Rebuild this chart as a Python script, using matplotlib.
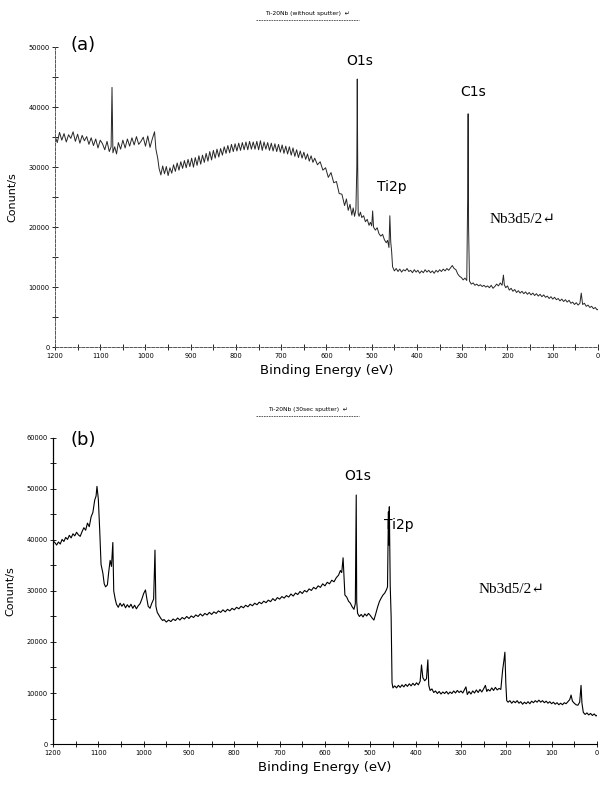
import matplotlib
matplotlib.use("Agg")
import matplotlib.pyplot as plt
from matplotlib.lines import Line2D
from matplotlib.ticker import MultipleLocator

# XPS survey, panel (a): Ti-20Nb without sputter
energy_a = [1200, 1195, 1190, 1185, 1180, 1175, 1170, 1165, 1160, 1155, 1150, 1145, 1140, 1135,
            1130, 1125, 1120, 1115, 1110, 1105, 1100, 1095, 1090, 1085, 1080, 1076, 1074, 1072,
            1068, 1064, 1060, 1055, 1050, 1045, 1040, 1035, 1030, 1025, 1020, 1015, 1010, 1005,
            1000, 995, 990, 985, 980, 977, 973, 970, 966, 962, 958, 954, 950, 946, 942, 938,
            934, 930, 926, 922, 918, 914, 910, 906, 902, 898, 894, 890, 886, 882, 878, 874,
            870, 866, 862, 858, 854, 850, 846, 842, 838, 834, 830, 826, 822, 818, 814, 810,
            806, 802, 798, 794, 790, 786, 782, 778, 774, 770, 766, 762, 758, 754, 750, 746,
            742, 738, 734, 730, 726, 722, 718, 714, 710, 706, 702, 698, 694, 690, 686, 682,
            678, 674, 670, 666, 662, 658, 654, 650, 646, 642, 638, 634, 630, 626, 620, 614,
            608, 602, 596, 590, 584, 578, 572, 566, 560, 556, 552, 548, 544, 541, 538, 535,
            533, 532, 531, 530, 528, 525, 522, 518, 514, 510, 506, 503, 500, 498, 496, 492,
            488, 484, 480, 476, 472, 468, 465, 462, 460, 458, 456, 454, 450, 446, 442, 438,
            434, 430, 426, 422, 418, 414, 410, 406, 402, 398, 394, 390, 386, 382, 378, 374,
            370, 366, 362, 358, 354, 350, 346, 342, 338, 334, 330, 326, 322, 318, 314, 310,
            306, 302, 298, 294, 290, 288, 287, 286, 284, 280, 276, 272, 268, 264, 260, 256,
            252, 248, 244, 240, 236, 232, 228, 224, 220, 216, 212, 209, 207, 204, 200, 196,
            192, 188, 184, 180, 176, 172, 168, 164, 160, 156, 152, 148, 144, 140, 136, 132,
            128, 124, 120, 116, 112, 108, 104, 100, 96, 92, 88, 84, 80, 76, 72, 68,
            64, 60, 56, 52, 48, 44, 40, 37, 34, 30, 26, 22, 18, 14, 10, 6, 2, 0]
counts_a = [35200, 34100, 35800, 34500, 35600, 34200, 35400, 34800, 35900, 34300, 35500, 34000, 35300, 34400,
            35100, 33800, 34900, 33600, 34700, 33200, 34500, 33900, 32900, 34300, 32600, 33400, 43300, 32400,
            33400, 32200, 34100, 33000, 34500, 33200, 34700, 33500, 34900, 33700, 35100, 33800, 34300, 35000,
            33500, 35200, 33300, 34700, 35900, 33000, 31500, 29800, 28700, 30200, 28900, 30100, 28600, 29900, 29000, 30400,
            29300, 30700, 29500, 30900, 29800, 31100, 29900, 31300, 30100, 31500, 30000, 31600, 30300, 31900, 30500, 32000,
            30800, 32300, 31000, 32600, 31200, 32800, 31500, 33000, 31700, 33100, 32000, 33400, 32300, 33600, 32400, 33800,
            32600, 33900, 32700, 34000, 32800, 34100, 32900, 34200, 32900, 34300, 33000, 34200, 33000, 34300, 32900, 34400,
            32800, 34200, 33000, 34100, 32800, 34000, 32700, 33900, 32600, 33800, 32500, 33700, 32300, 33500, 32200, 33400,
            32000, 33200, 31800, 32900, 31600, 32700, 31500, 32500, 31300, 32200, 31000, 31900, 30800, 31500, 30400, 30900,
            29500, 29900, 28300, 29100, 27400, 27600, 25600, 25500, 23600, 24700, 22800, 23800, 22000, 23200, 21800, 22900,
            30000, 44700, 30000, 22300, 21800, 22500, 21600, 21900, 20900, 21300, 20300, 20800, 20200, 22700, 20000, 19500,
            19900, 18900, 18500, 18800, 17900, 17400, 17800, 16600, 21900, 17500, 15900, 13400, 12700, 13100, 12600, 13000,
            12500, 12900, 12700, 13100, 12600, 12800, 12400, 12900, 12500, 12800, 12300, 12700, 12400, 12900, 12500, 12800,
            12400, 12700, 12300, 12800, 12500, 12900, 12600, 13000, 12700, 13100, 12800, 13200, 13600, 13100, 12900, 12200,
            11800, 11600, 11200, 11500, 11100, 25000, 38900, 20000, 11000, 10500, 10700, 10300, 10500, 10200, 10400, 10100,
            10300, 10000, 10200, 9900, 10300, 9800, 10100, 10500, 10200, 10700, 10300, 12000, 10400, 9900, 10200, 9500,
            9800, 9300, 9600, 9100, 9400, 9000, 9300, 8900, 9200, 8800, 9100, 8700, 9000, 8600, 8900, 8500,
            8800, 8400, 8700, 8300, 8500, 8100, 8400, 8000, 8300, 7900, 8100, 7700, 8000, 7600, 7900, 7500,
            7800, 7300, 7500, 7100, 7400, 7000, 7300, 9000, 7100, 7300, 6800, 7000, 6600, 6800, 6400, 6600, 6200, 6300]

# panel (b): Ti-20Nb after 30 sec sputter
energy_b = [1200, 1196, 1192, 1188, 1184, 1180, 1176, 1172, 1168, 1164, 1160, 1156, 1152, 1148,
            1144, 1140, 1136, 1132, 1128, 1124, 1120, 1116, 1112, 1108, 1105, 1103, 1100, 1097,
            1094, 1090, 1087, 1084, 1080, 1077, 1074, 1071, 1068, 1066, 1063, 1060, 1056, 1052,
            1048, 1044, 1040, 1036, 1032, 1028, 1024, 1020, 1016, 1012, 1008, 1004, 1000, 996,
            993, 990, 986, 982, 978, 975, 973, 970, 966, 962, 958,
            955, 950, 945, 940, 935, 930, 925, 920, 915, 910, 905, 900, 895, 890, 885, 880,
            875, 870, 865, 860, 855, 850, 845, 840, 835, 830, 825, 820, 815, 810, 805, 800,
            795, 790, 785, 780, 775, 770, 765, 760, 755, 750, 745, 740, 735, 730, 725, 720,
            715, 710, 705, 700, 695, 690, 685, 680, 675, 670, 665, 660, 655, 650, 645, 640,
            635, 630, 625, 620, 615, 610, 605, 600, 595, 590, 585, 580, 575, 570, 566, 563,
            560, 558, 556, 552, 548, 544, 540, 536, 533, 531, 530, 528, 524, 520, 516, 512,
            508, 504, 500, 496, 492, 488, 484, 480, 476, 472, 468, 464, 462, 460, 459, 458,
            456, 454, 452, 450, 446, 442, 438, 434, 430, 426, 422, 418, 414, 410, 406, 402,
            398, 394, 390, 387, 384, 380, 376, 373, 371, 368, 364, 360, 356, 352, 348, 344,
            340, 336, 332, 328, 324, 320, 316, 312, 308, 304, 300, 296, 292, 289, 286, 282,
            278, 274, 270, 266, 262, 258, 254, 250, 246, 243, 240, 236, 232, 228, 224, 220,
            216, 212, 208, 205, 203, 201, 199, 196, 192, 188, 184, 180, 176, 172, 168, 164,
            160, 156, 152, 148, 144, 140, 136, 132, 128, 124, 120, 116, 112, 108, 104, 100,
            96, 92, 88, 84, 80, 76, 72, 68, 64, 60, 57, 54, 50, 46, 42, 38,
            35, 33, 30, 26, 22, 18, 14, 10, 6, 2, 0]
counts_b = [39800, 39500, 39000, 39600, 39200, 40100, 39700, 40500, 40100, 40900, 40400, 41200, 40800, 41500,
            41000, 40700, 41600, 42400, 41900, 43300, 42600, 44500, 45400, 47800, 48600, 50500, 48000, 42000,
            35200, 33500, 31400, 30800, 31200, 33800, 36000, 34800, 39500, 30000, 28500, 27400, 26800, 27600,
            27000, 27500, 26700, 27300, 26800, 27400, 26600, 27200, 26500, 27100, 27500, 28400, 29500, 30200,
            28500, 27000, 26600, 27600, 28400, 38000, 27000, 25800, 25200, 24600, 24200,
            24400, 23900, 24300, 24000, 24500, 24200, 24700, 24300, 24800, 24500, 25000, 24600, 25100, 24800, 25300, 25000,
            25500, 25100, 25600, 25300, 25800, 25400, 25900, 25600, 26100, 25800, 26300, 25900, 26400, 26100, 26600, 26300,
            26800, 26500, 27000, 26700, 27200, 26900, 27400, 27100, 27600, 27300, 27800, 27500, 28000, 27700, 28200, 27900,
            28500, 28100, 28700, 28400, 28900, 28600, 29100, 28800, 29400, 29000, 29600, 29300, 29900, 29500, 30100, 29800,
            30400, 30100, 30700, 30400, 31000, 30700, 31400, 31000, 31700, 31400, 32100, 31800, 32600, 33100, 34000, 33600,
            36500, 33000, 29200, 28800, 28000, 27600, 26900, 26400, 27500, 48800, 28000, 25600, 25000, 25400, 24900, 25500,
            25100, 25600, 25200, 24700, 24300, 25500, 26800, 27900, 28600, 29200, 29600, 30300, 30800, 45500, 39000, 46500,
            31000, 25000, 12000, 11000, 11400, 11000, 11500, 11100, 11600, 11200, 11700, 11300, 11800, 11400, 11900, 11500,
            12000, 11600, 12300, 15500, 13000, 12400, 12800, 16500, 11500, 10500, 10800, 10100, 10400, 9900, 10300, 9800,
            10200, 9900, 10300, 9800, 10200, 9900, 10400, 10000, 10500, 10100, 10400, 10000, 10700, 11200, 9700, 10300,
            9800, 10400, 10000, 10600, 10100, 10700, 10200, 10800, 11500, 10300, 10700, 10400, 11000, 10500, 11100, 10600,
            10900, 10700, 14500, 16500, 18000, 12000, 8500, 8200, 8500, 8000, 8400, 8100, 8500, 8000, 8300, 7800,
            8200, 7900, 8300, 7900, 8400, 8100, 8500, 8200, 8600, 8200, 8500, 8100, 8400, 8000, 8300, 7900,
            8200, 7800, 8100, 7700, 8000, 7700, 8100, 7900, 8300, 8700, 9600, 8400, 8000, 7700, 7600, 8200,
            11500, 8000, 6200, 5800, 6100, 5700, 6000, 5600, 5900, 5500, 5600]

peaks_a = ["O1s", "Ti2p", "C1s"]
peak_pos_a = [(526, 47700), (455, 26700), (276, 42500)]
peaks_b = ["O1s", "Ti2p"]
peak_pos_b = [(527, 52500), (437, 43000)]

fig = plt.figure(figsize=(6.03, 7.87), dpi=100)
ax_a = fig.add_axes([0.0912, 0.559, 0.9005, 0.381])
ax_b = fig.add_axes([0.0879, 0.0546, 0.902, 0.389])

ax_a.plot(energy_a, counts_a, color="#262626", lw=0.7)
ax_b.plot(energy_b, counts_b, color="black", lw=0.8)

for ax, ytop in [(ax_a, 50000), (ax_b, 60000)]:
    ax.set_xlim(1200, 0)
    ax.set_ylim(0, ytop)
    ax.xaxis.set_major_locator(MultipleLocator(100))
    ax.xaxis.set_minor_locator(MultipleLocator(50))
    ax.yaxis.set_major_locator(MultipleLocator(10000))
    ax.yaxis.set_minor_locator(MultipleLocator(5000))
    ax.tick_params(which="both", direction="inout", length=4, width=0.6, labelsize=4.8, pad=2)
    ax.spines["top"].set_visible(False)
    ax.spines["right"].set_visible(False)
    ax.set_xlabel("Binding Energy (eV)", fontsize=9.5, labelpad=4)
    ax.set_ylabel("Conunt/s", fontsize=8, labelpad=8)
    ax.patch.set_visible(False)

# scanned look of the top panel axes
for side in ["left", "bottom"]:
    ax_a.spines[side].set_linestyle((0, (3, 1.5)))
    ax_a.spines[side].set_color("#555555")
    ax_a.spines[side].set_linewidth(0.7)
ax_b.spines["left"].set_linewidth(0.9)

ax_a.text(1138, 50300, "(a)", fontsize=13, ha="center", va="center")
ax_b.text(1134, 59500, "(b)", fontsize=13, ha="center", va="center")
for name, (x, y) in zip(peaks_a, peak_pos_a):
    ax_a.text(x, y, name, fontsize=10, ha="center", va="center")
for name, (x, y) in zip(peaks_b, peak_pos_b):
    ax_b.text(x, y, name, fontsize=10, ha="center", va="center")
serif = ["Liberation Serif", "DejaVu Serif"]
ax_a.text(166, 21200, "Nb3d5/2\u21b5", fontsize=11, family=serif, ha="center", va="center")
ax_b.text(188, 30200, "Nb3d5/2\u21b5", fontsize=11, family=serif, ha="center", va="center")

# small captions above each panel
for label, ytxt in [("Ti-20Nb (without sputter)  \u21b5", 0.983), ("Ti-20Nb (30sec sputter)  \u21b5", 0.480)]:
    fig.text(0.51, ytxt, label, fontsize=4.3, ha="center", va="center")
    fig.add_artist(Line2D([0.425, 0.595], [ytxt - 0.008, ytxt - 0.008], color="#444444",
                          lw=0.6, ls=(0, (2, 1)), transform=fig.transFigure))

fig.savefig("out.png", dpi=100)
